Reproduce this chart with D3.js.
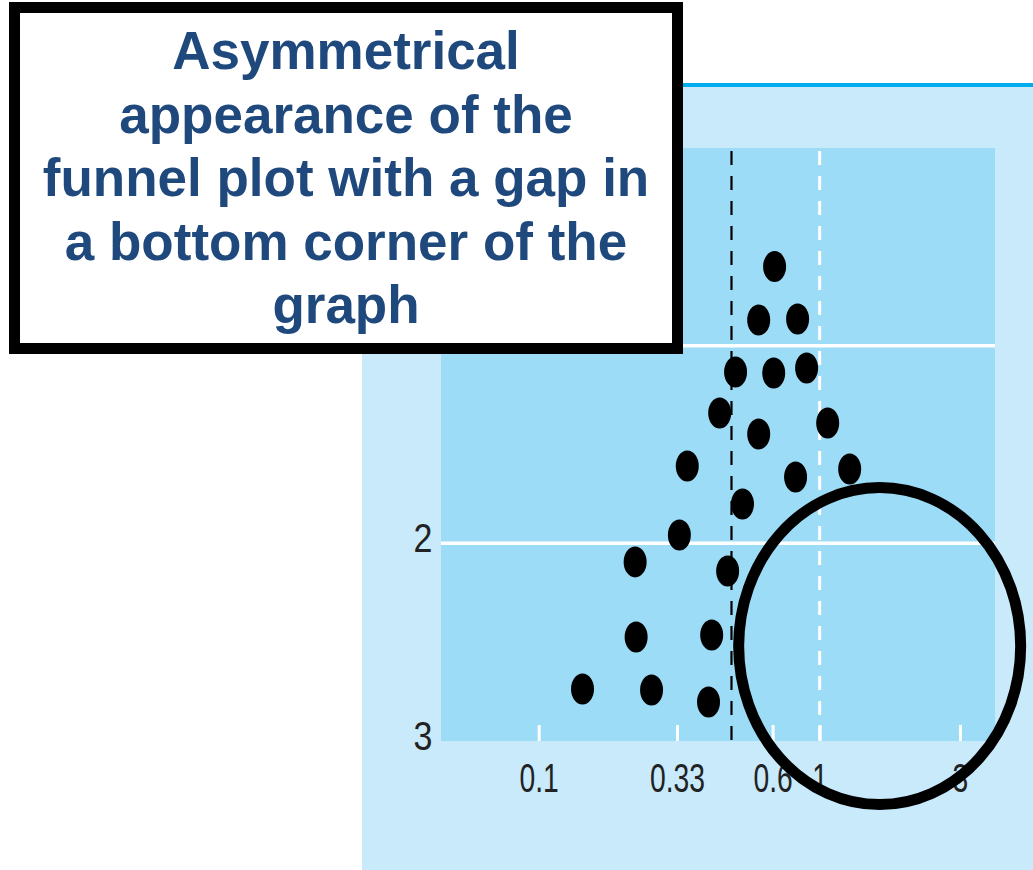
<!DOCTYPE html>
<html>
<head>
<meta charset="utf-8">
<script src="https://cdn.jsdelivr.net/npm/d3@7"></script>
<style>
  html, body { margin: 0; padding: 0; background: #ffffff; }
  svg { display: block; }
</style>
</head>
<body>
<svg id="chart" width="1033" height="870"></svg>
<script>
// ---- data ----
const effectSizes = [0.613, 0.550, 0.787, 0.476, 0.607, 0.868, 0.431, 0.550, 1.065, 0.352, 0.770,
                     1.265, 0.497, 0.335, 0.230, 0.453, 0.232, 0.410, 0.146, 0.265, 0.402];
const standardErrors = [0.60, 0.87, 0.865, 1.133, 1.138, 1.113, 1.341, 1.447, 1.391, 1.609, 1.664,
                        1.624, 1.801, 1.958, 2.094, 2.140, 2.474, 2.464, 2.737, 2.742, 2.803];
const xTickValues = [0.1, 0.33, 0.6, 1, 3];
const xTickLabels = ["0.1", "0.33", "0.6", "1", "3"];
const yTickValues = [1, 2, 3];
const yTickLabels = ["1", "2", "3"];
const pooledEstimate = 0.464;
const nullEffect = 1;
const gapCentre = { effect: 1.6, se: 2.52 };
const annotationLines = ["Asymmetrical", "appearance of the", "funnel plot with a gap in",
                         "a bottom corner of the", "graph"];

// ---- layout ----
const svg = d3.select("#chart");
const panel = { x: 362, y: 83, w: 671, h: 787 };
const plot = { x: 441, y: 148, w: 554, h: 593 };
const xFractions = [0.1763, 0.4259, 0.5986, 0.6835, 0.9367]; // drawn positions of tick values

const x = d3.scaleLog()
  .domain(xTickValues)
  .range(xFractions.map(f => plot.x + f * plot.w));
const y = d3.scaleLinear().domain([0, 3]).range([plot.y, plot.y + plot.h]);

const labelFont = "'Liberation Sans Narrow', 'Liberation Sans', Arial, sans-serif";

// outer light panel
svg.append("rect").attr("x", panel.x).attr("y", panel.y).attr("width", panel.w).attr("height", panel.h)
  .attr("fill", "#c8eafb");
svg.append("line").attr("x1", panel.x).attr("x2", panel.x + panel.w).attr("y1", 85).attr("y2", 85)
  .attr("stroke", "#00aeef").attr("stroke-width", 4);

// plot area
svg.append("rect").attr("x", plot.x).attr("y", plot.y).attr("width", plot.w).attr("height", plot.h)
  .attr("fill", "#9ddcf7");

// horizontal gridlines
svg.append("g").selectAll("line").data([1, 2]).join("line")
  .attr("x1", plot.x).attr("x2", plot.x + plot.w)
  .attr("y1", d => y(d)).attr("y2", d => y(d))
  .attr("stroke", "#ffffff").attr("stroke-width", 3.5);

// x axis: white inner ticks + labels
const xAxis = d3.axisBottom(x).tickValues(xTickValues)
  .tickFormat((d, i) => xTickLabels[i]).tickSize(-16).tickPadding(20);
const gx = svg.append("g").attr("transform", `translate(0,${plot.y + plot.h})`).call(xAxis);
gx.select(".domain").remove();
gx.selectAll(".tick line").attr("stroke", "#ffffff").attr("stroke-width", 3);
gx.selectAll(".tick text")
  .attr("x", 0).attr("y", 0).attr("dy", null)
  .attr("transform", "translate(0,51) scale(0.69,1)")
  .attr("fill", "#222222")
  .style("font-family", labelFont)
  .style("font-size", "41px");

// y axis labels
const yAxis = d3.axisLeft(y).tickValues(yTickValues)
  .tickFormat((d, i) => yTickLabels[i]).tickSize(0).tickPadding(0);
const gy = svg.append("g").attr("transform", `translate(${plot.x},0)`).call(yAxis);
gy.select(".domain").remove();
gy.selectAll(".tick text")
  .attr("x", 0).attr("y", 0).attr("dy", null)
  .attr("transform", "translate(-18,8) scale(0.85,1)")
  .attr("text-anchor", "middle")
  .attr("fill", "#222222")
  .style("font-family", labelFont)
  .style("font-size", "40px");

// vertical dashed reference lines
svg.append("line")
  .attr("x1", x(pooledEstimate)).attr("x2", x(pooledEstimate))
  .attr("y1", plot.y + 3).attr("y2", plot.y + plot.h)
  .attr("stroke", "#000000").attr("stroke-width", 2.2).attr("stroke-dasharray", "14 11");
svg.append("line")
  .attr("x1", x(nullEffect)).attr("x2", x(nullEffect))
  .attr("y1", plot.y + 3).attr("y2", plot.y + plot.h)
  .attr("stroke", "#ffffff").attr("stroke-width", 3).attr("stroke-dasharray", "14 11");

// study points
const studies = effectSizes.map((e, i) => ({ effect: e, se: standardErrors[i] }));
svg.append("g").selectAll("ellipse").data(studies).join("ellipse")
  .attr("cx", d => x(d.effect)).attr("cy", d => y(d.se))
  .attr("rx", 11.5).attr("ry", 15.5)
  .attr("fill", "#000000");

// highlighting ellipse around the gap
svg.append("ellipse")
  .attr("cx", x(gapCentre.effect)).attr("cy", y(gapCentre.se))
  .attr("rx", 141).attr("ry", 158.5)
  .attr("fill", "none").attr("stroke", "#000000").attr("stroke-width", 11);

// annotation box
svg.append("rect").attr("x", 14.5).attr("y", 7.5).attr("width", 663).attr("height", 341)
  .attr("fill", "#ffffff").attr("stroke", "#000000").attr("stroke-width", 11);
svg.append("g").selectAll("text").data(annotationLines).join("text")
  .attr("x", 346).attr("y", (d, i) => 69 + i * 63.6)
  .attr("text-anchor", "middle")
  .attr("fill", "#1f497d")
  .style("font-family", "'Liberation Sans', Arial, sans-serif")
  .style("font-weight", "bold")
  .style("font-size", "53px")
  .text(d => d);
</script>
</body>
</html>
